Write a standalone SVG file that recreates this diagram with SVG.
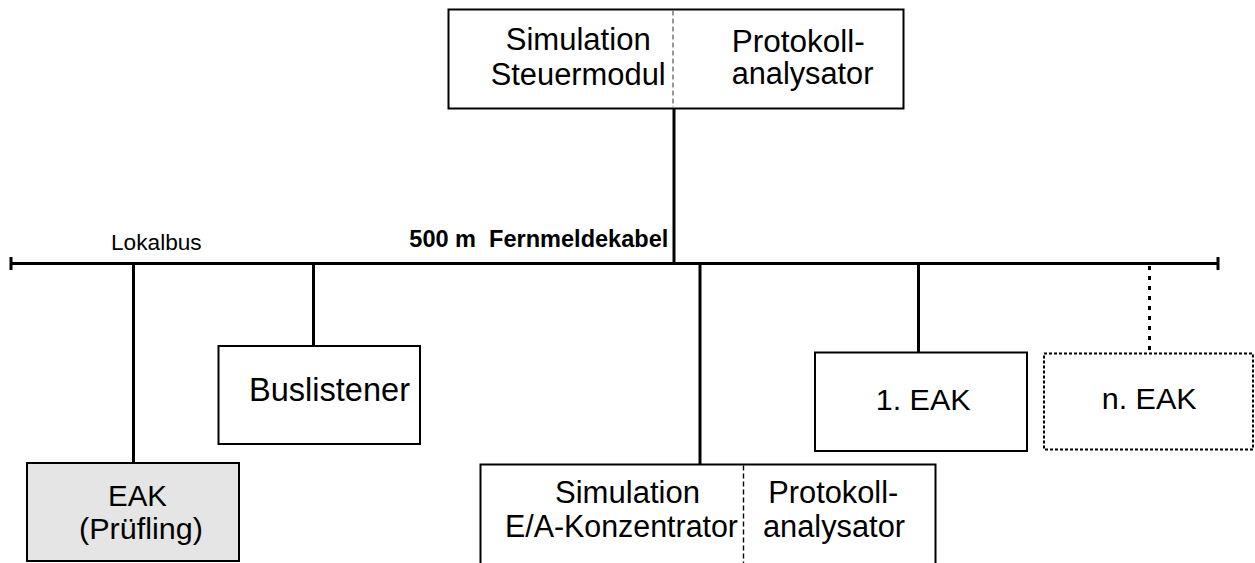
<svg xmlns="http://www.w3.org/2000/svg" width="1255" height="563" viewBox="0 0 1255 563">
  <style>
    .box { fill: #ffffff; stroke: #000000; stroke-width: 2; }
    .dut { fill: #e5e5e5; }
    .opt { stroke-dasharray: 3 2; }
    .split { stroke-width: 1.4; stroke-dasharray: 5 3; fill: none; }
    .wire { stroke: #000000; stroke-width: 3; fill: none; }
    .dotted { stroke-dasharray: 4 6; }
    .t { font-family: "Liberation Sans", Arial, Helvetica, sans-serif; fill: #000000; }
    .big { font-size: 31px; }
    .small { font-size: 22px; }
    .bold { font-size: 23px; font-weight: bold; white-space: pre; }
  </style>

  <!-- bus and drop lines -->
  <g id="connectors">
    <line class="wire" x1="11" y1="263.5" x2="1218" y2="263.5"/>
    <line class="wire" x1="11" y1="257" x2="11" y2="270"/>
    <line class="wire" x1="1218" y1="257" x2="1218" y2="270"/>
    <line class="wire" x1="674" y1="108.5" x2="674" y2="263.5"/>
    <line class="wire" x1="133.5" y1="263.5" x2="133.5" y2="463"/>
    <line class="wire" x1="313.5" y1="263.5" x2="313.5" y2="346"/>
    <line class="wire" x1="700" y1="263.5" x2="700" y2="464.5"/>
    <line class="wire" x1="918.5" y1="263.5" x2="918.5" y2="352.5"/>
    <line class="wire dotted" x1="1149.5" y1="266" x2="1149.5" y2="353.5"/>
  </g>

  <!-- bus labels -->
  <g id="bus-labels">
    <text class="t small" x="111" y="250" textLength="90.7" lengthAdjust="spacingAndGlyphs">Lokalbus</text>
    <text class="t bold" x="409.3" y="246.7" textLength="259" lengthAdjust="spacingAndGlyphs">500 m  Fernmeldekabel</text>
  </g>

  <!-- control module simulation + protocol analyser -->
  <g id="steuermodul">
    <rect class="box" x="448.5" y="9.5" width="455" height="99"/>
    <line class="split" x1="673" y1="10.5" x2="673" y2="107.5" stroke="#707070"/>
    <text class="t big" x="505.7" y="49.5" textLength="145" lengthAdjust="spacingAndGlyphs">Simulation</text>
    <text class="t big" x="490.7" y="85" textLength="175" lengthAdjust="spacingAndGlyphs">Steuermodul</text>
    <text class="t big" x="731.7" y="52" textLength="133" lengthAdjust="spacingAndGlyphs">Protokoll-</text>
    <text class="t big" x="731.7" y="84" textLength="141.7" lengthAdjust="spacingAndGlyphs">analysator</text>
  </g>

  <!-- device under test -->
  <g id="eak-pruefling">
    <rect class="box dut" x="27" y="463" width="212" height="98"/>
    <text class="t" font-size="30" x="108" y="506" textLength="59" lengthAdjust="spacingAndGlyphs">EAK</text>
    <text class="t" font-size="30" x="79" y="539" textLength="124" lengthAdjust="spacingAndGlyphs">(Prüfling)</text>
  </g>

  <g id="buslistener">
    <rect class="box" x="218.5" y="346" width="201.5" height="98"/>
    <text class="t" font-size="33" x="249" y="401" textLength="161" lengthAdjust="spacingAndGlyphs">Buslistener</text>
  </g>

  <!-- concentrator simulation + protocol analyser -->
  <g id="ea-konzentrator">
    <rect class="box" x="480.5" y="464.5" width="455" height="150"/>
    <line class="split" x1="743.5" y1="465.5" x2="743.5" y2="563" stroke="#000000"/>
    <text class="t big" x="555" y="503.3" textLength="145" lengthAdjust="spacingAndGlyphs">Simulation</text>
    <text class="t big" x="505" y="536.7" textLength="233" lengthAdjust="spacingAndGlyphs">E/A-Konzentrator</text>
    <text class="t big" x="768.3" y="503" textLength="130" lengthAdjust="spacingAndGlyphs">Protokoll-</text>
    <text class="t big" x="763" y="537" textLength="142" lengthAdjust="spacingAndGlyphs">analysator</text>
  </g>

  <g id="eak-1">
    <rect class="box" x="815" y="352.5" width="212" height="98.5"/>
    <text class="t" font-size="30" x="875.7" y="410" textLength="95" lengthAdjust="spacingAndGlyphs">1. EAK</text>
  </g>

  <g id="eak-n">
    <rect class="box opt" x="1044" y="353.5" width="209" height="96"/>
    <text class="t" font-size="30" x="1101.7" y="409.3" textLength="95" lengthAdjust="spacingAndGlyphs">n. EAK</text>
  </g>
</svg>
